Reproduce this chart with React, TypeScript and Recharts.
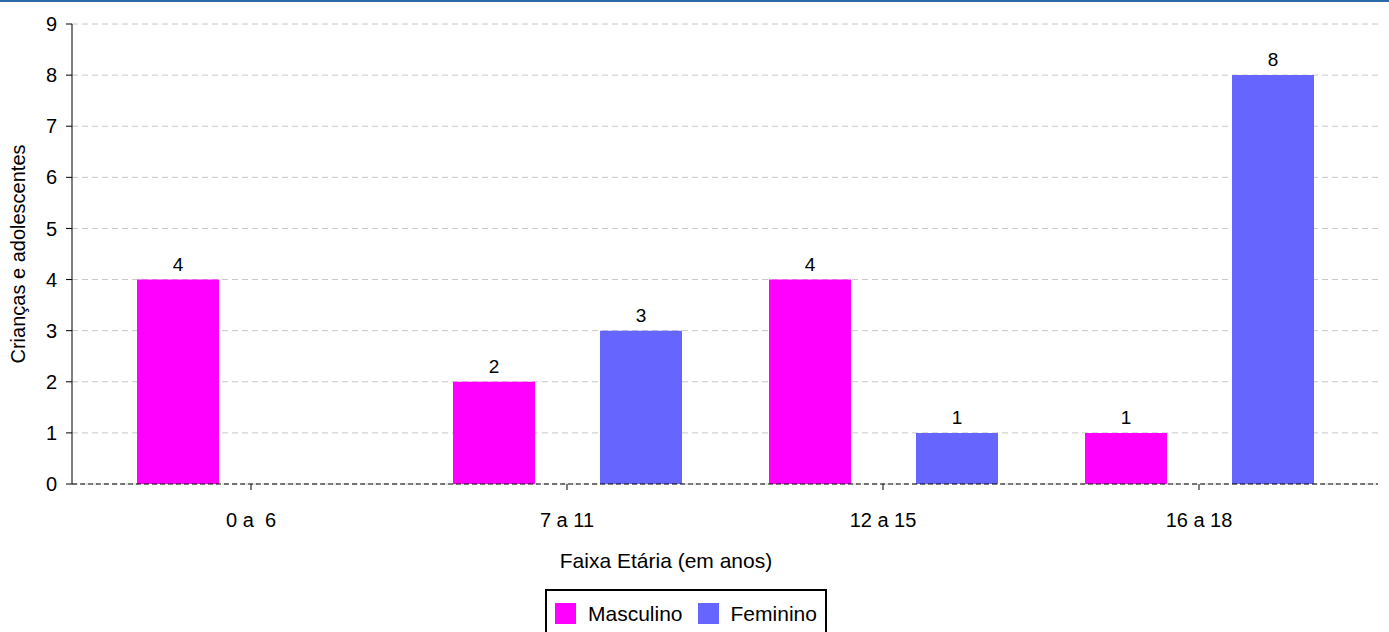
import React from 'react';
import { BarChart, Bar, XAxis, YAxis, CartesianGrid, LabelList } from 'recharts';

const categories = ['0 a\u00a0\u00a06', '7 a 11', '12 a 15', '16 a 18'];
const masculino = [4, 2, 4, 1];
const feminino = [0, 3, 1, 8];
const yTicks = [0, 1, 2, 3, 4, 5, 6, 7, 8, 9];

const COLORS = {
    masculino: '#ff00ff',
    feminino: '#6666ff',
};

const FONT = 'Arial, "Liberation Sans", sans-serif';

const data = categories.map((name, i) => ({
    name,
    masculino: masculino[i],
    feminino: feminino[i],
}));

const hideZero = (v: any) => (v === 0 ? '' : v);

// legend box sits under the axis title, drawn outside the svg so it doesn't shrink the plot
const BoxLegend = () => (
    <div
        style={{
            position: 'absolute',
            left: 545,
            top: 589,
            border: '2px solid #000',
            borderBottom: 'none',
            display: 'flex',
            alignItems: 'center',
            padding: '12px 8px 14px 8px',
            fontFamily: FONT,
            fontSize: 21,
            background: '#fff',
            lineHeight: '21px',
        }}
    >
        <span style={{ width: 21, height: 21, background: COLORS.masculino, display: 'inline-block', marginRight: 12 }} />
        <span style={{ marginRight: 15 }}>Masculino</span>
        <span style={{ width: 21, height: 21, background: COLORS.feminino, display: 'inline-block', marginRight: 12 }} />
        <span>Feminino</span>
    </div>
);

const App: React.FC = () => {
    return (
        <div style={{ position: 'absolute', left: 0, top: 0, width: 1389, height: 632, background: '#fff', overflow: 'hidden' }}>
            <div style={{ position: 'absolute', left: 0, top: 0, width: 1389, height: 2, background: '#2a6aa8' }} />
            <BarChart
                width={1389}
                height={632}
                data={data}
                margin={{ top: 24, right: 11, left: 0, bottom: 0 }}
                barSize={82}
                barGap={65}
                style={{ fontFamily: FONT }}
            >
                <CartesianGrid vertical={false} stroke="#c8c8c8" strokeDasharray="6 4" />
                <XAxis
                    dataKey="name"
                    height={148}
                    padding={{ left: 21, right: 21 }}
                    axisLine={{ stroke: '#000', strokeDasharray: '5 3' }}
                    tickLine={{ stroke: '#000' }}
                    tickSize={6}
                    tick={{ fill: '#000', fontSize: 20 }}
                    tickMargin={23}
                    label={{ value: 'Faixa Etária (em anos)', position: 'insideTop', offset: 69, dx: -59, fill: '#000', fontSize: 21 }}
                />
                <YAxis
                    width={72}
                    domain={[0, 9]}
                    ticks={yTicks}
                    interval={0}
                    axisLine={{ stroke: '#000' }}
                    tickLine={{ stroke: '#000' }}
                    tickSize={6}
                    tick={{ fill: '#000', fontSize: 20 }}
                    tickMargin={9}
                    label={{ value: 'Crianças e adolescentes', angle: -90, position: 'insideLeft', offset: 18, fill: '#000', fontSize: 20, style: { textAnchor: 'middle' } }}
                />
                <Bar dataKey="masculino" name="Masculino" fill={COLORS.masculino} isAnimationActive={false}>
                    <LabelList dataKey="masculino" position="top" offset={9} fill="#000" fontSize={19} formatter={hideZero} />
                </Bar>
                <Bar dataKey="feminino" name="Feminino" fill={COLORS.feminino} isAnimationActive={false}>
                    <LabelList dataKey="feminino" position="top" offset={9} fill="#000" fontSize={19} formatter={hideZero} />
                </Bar>
            </BarChart>
            <BoxLegend />
        </div>
    );
};

export default App;
